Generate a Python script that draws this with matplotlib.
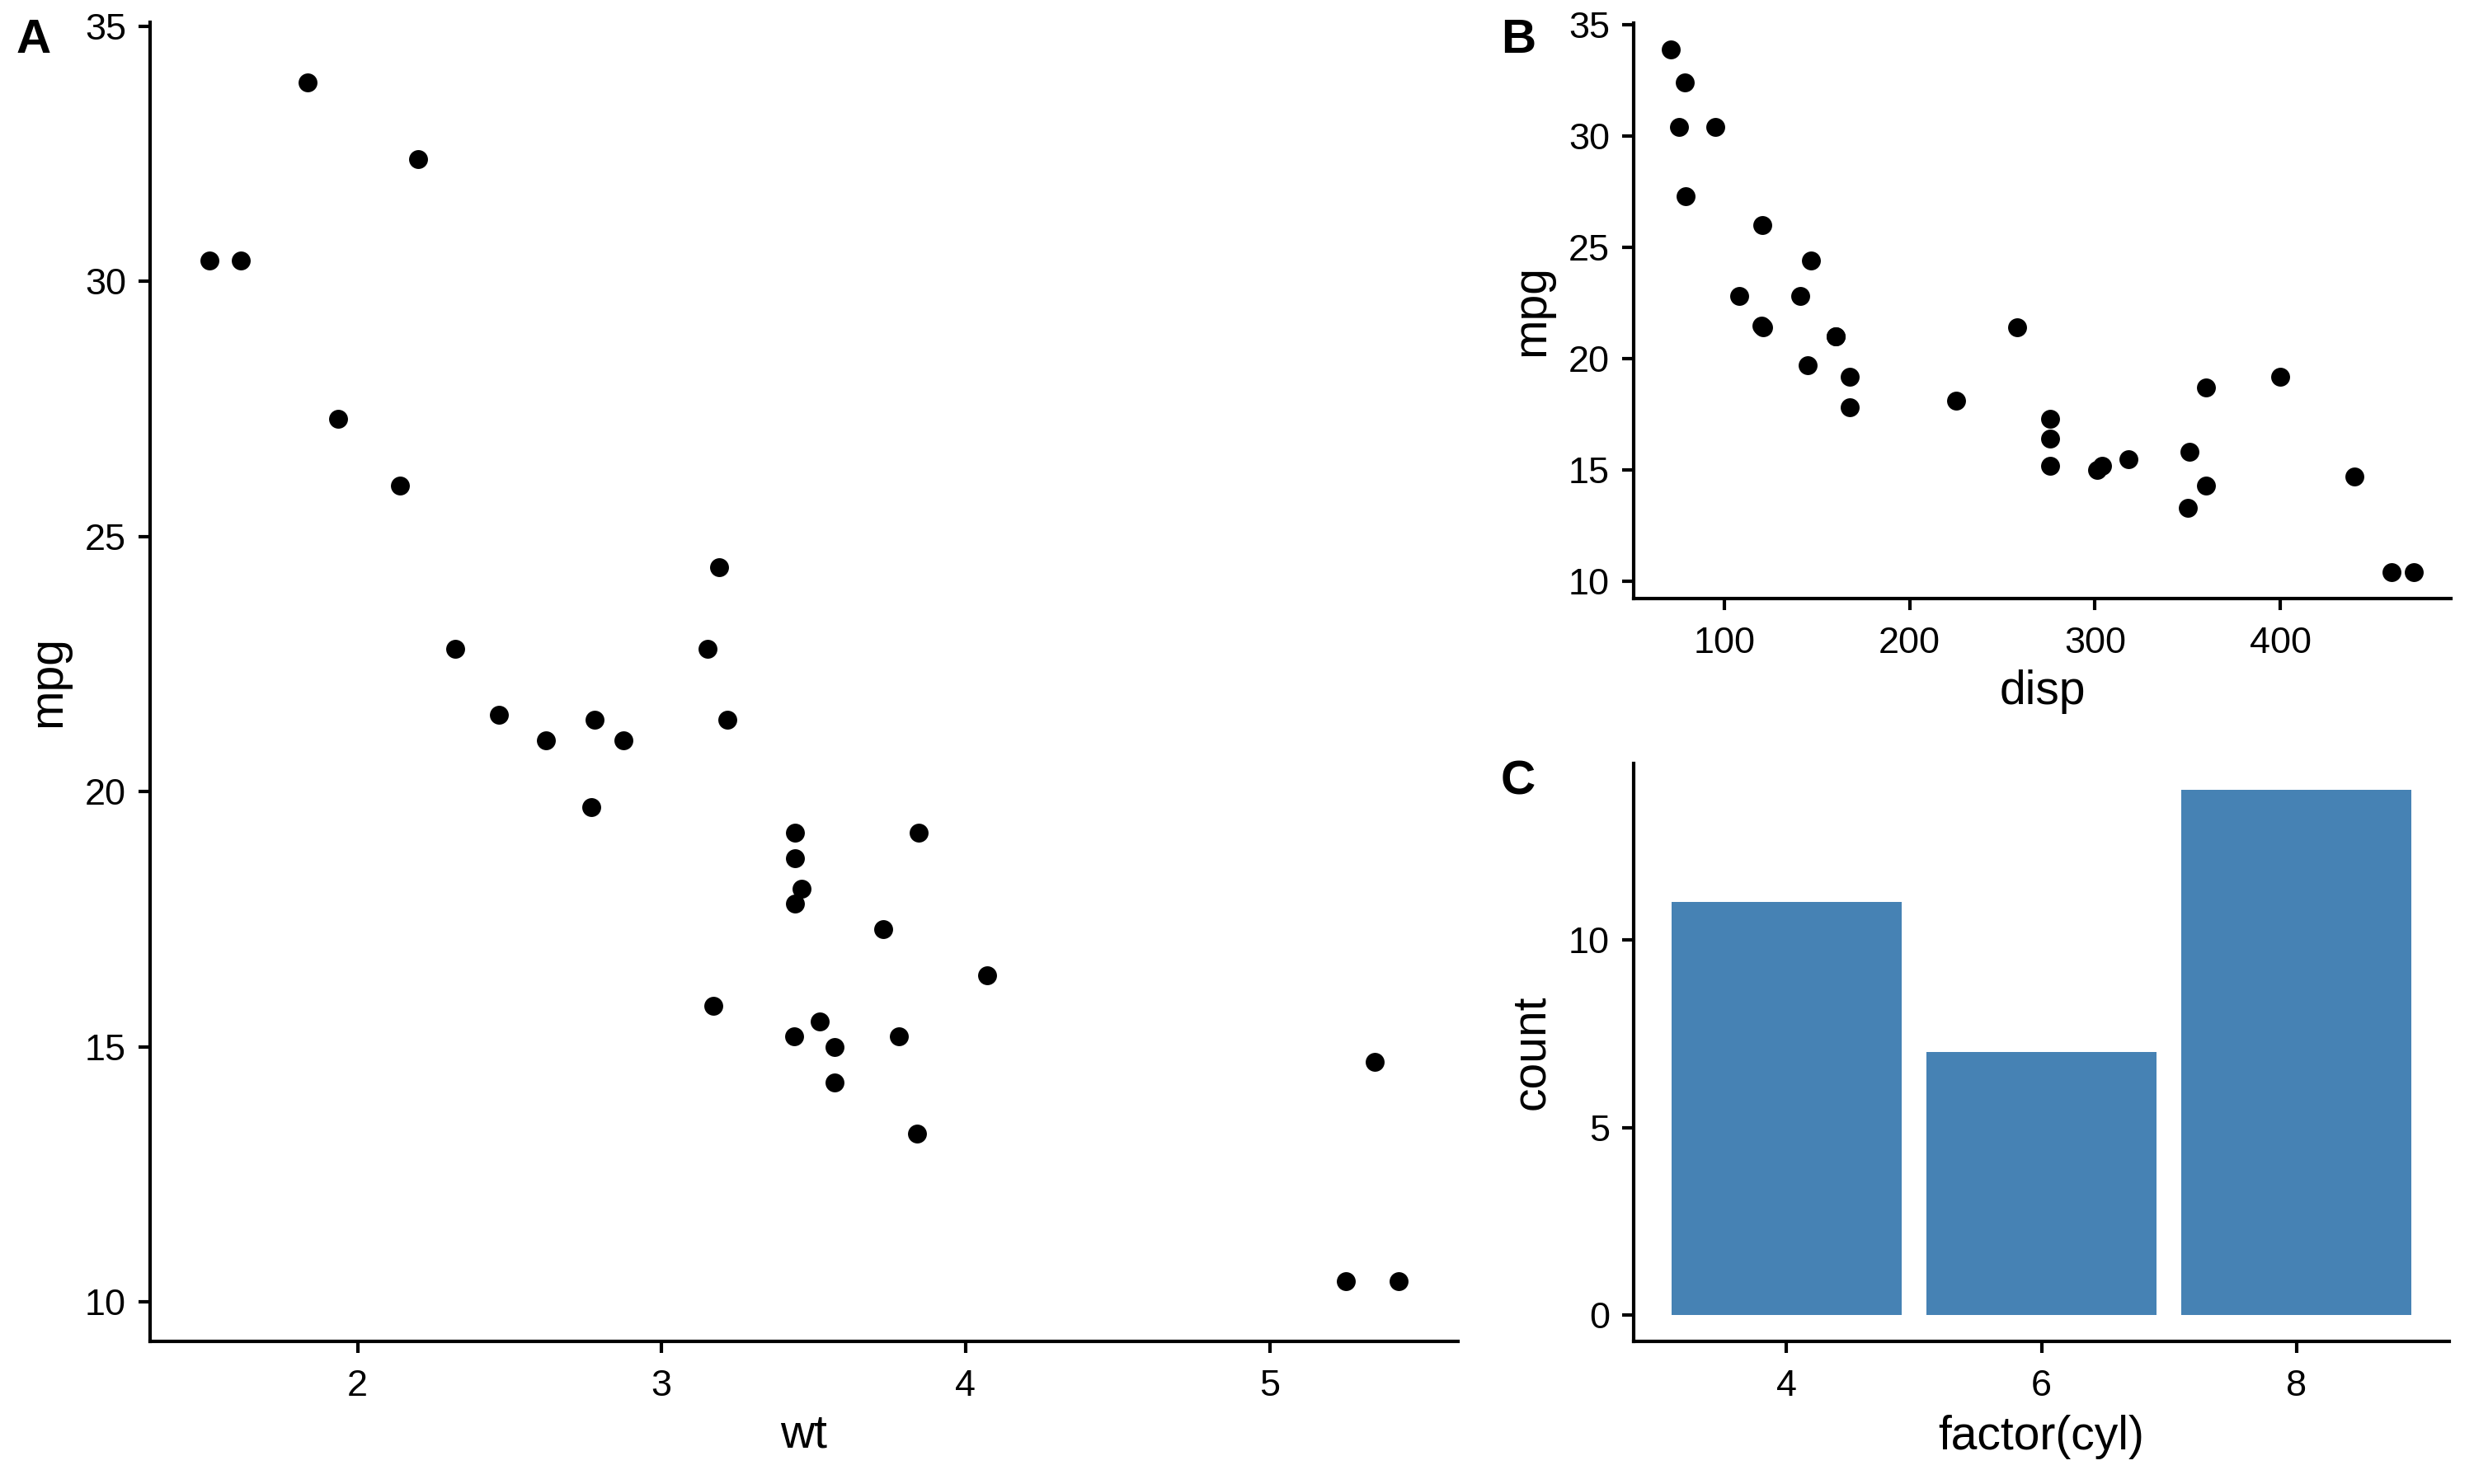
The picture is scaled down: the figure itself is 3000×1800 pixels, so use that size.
import numpy as np
import matplotlib
matplotlib.use("Agg")
import matplotlib.pyplot as plt

plt.rcParams['font.family'] = ['Liberation Sans', 'DejaVu Sans']

# mtcars columns
mpg = [21.0, 21.0, 22.8, 21.4, 18.7, 18.1, 14.3, 24.4, 22.8, 19.2, 17.8, 16.4,
       17.3, 15.2, 10.4, 10.4, 14.7, 32.4, 30.4, 33.9, 21.5, 15.5, 15.2, 13.3,
       19.2, 27.3, 26.0, 30.4, 15.8, 19.7, 15.0, 21.4]
wt = [2.620, 2.875, 2.320, 3.215, 3.440, 3.460, 3.570, 3.190, 3.150, 3.440,
      3.440, 4.070, 3.730, 3.780, 5.250, 5.424, 5.345, 2.200, 1.615, 1.835,
      2.465, 3.520, 3.435, 3.840, 3.845, 1.935, 2.140, 1.513, 3.170, 2.770,
      3.570, 2.780]
disp = [160, 160, 108, 258, 360, 225, 360, 146.7, 140.8, 167.6, 167.6, 275.8,
        275.8, 275.8, 472, 460, 440, 78.7, 75.7, 71.1, 120.1, 318, 304, 350,
        400, 79, 120.3, 95.1, 351, 145, 301, 121]
cyl_levels = ['4', '6', '8']
cyl_counts = [11, 7, 14]

TICK_FS = 16.2
TITLE_FS = 20.5
LABEL_FS = 21
LW = 1.5


def expand(vals, mult=0.05):
    lo, hi = min(vals), max(vals)
    pad = (hi - lo) * mult
    return lo - pad, hi + pad


def style(ax):
    for s in ['top', 'right']:
        ax.spines[s].set_visible(False)
    for s in ['left', 'bottom']:
        ax.spines[s].set_linewidth(LW)
        ax.spines[s].set_color('black')
    ax.tick_params(axis='both', length=5, width=LW,
                   labelsize=TICK_FS, colors='black')
    ax.tick_params(axis='x', pad=7.3)
    ax.tick_params(axis='y', pad=5.5)


fig = plt.figure(figsize=(15, 9), dpi=200)
fig.patch.set_facecolor('white')

W, H = 3000, 1800


def add_ax(l, t, r, b):
    return fig.add_axes([l / W, 1 - b / H, (r - l) / W, (b - t) / H])


# panel A
axA = add_ax(182, 27, 1768, 1627)
axA.scatter(wt, mpg, s=68, c='black', linewidths=0, zorder=3)
axA.set_xlim(*expand(wt))
axA.set_ylim(*expand(mpg))
axA.set_xticks([2, 3, 4, 5])
axA.set_yticks([10, 15, 20, 25, 30, 35])
axA.set_xlabel('wt', fontsize=TITLE_FS, labelpad=4)
axA.set_ylabel('mpg', fontsize=TITLE_FS, labelpad=6.5)
style(axA)

# panel B
axB = add_ax(1981, 28, 2972, 726)
axB.scatter(disp, mpg, s=68, c='black', linewidths=0, zorder=3)
axB.set_xlim(*expand(disp))
axB.set_ylim(*expand(mpg))
axB.set_xticks([100, 200, 300, 400])
axB.set_yticks([10, 15, 20, 25, 30, 35])
axB.set_xlabel('disp', fontsize=TITLE_FS, labelpad=4)
axB.set_ylabel('mpg', fontsize=TITLE_FS, labelpad=6.5)
style(axB)

# panel C
axC = add_ax(1981, 926, 2970, 1627)
xpos = np.arange(1, len(cyl_levels) + 1)
axC.bar(xpos, cyl_counts, width=0.9, color='#4682B4', zorder=2)
axC.set_xlim(0.4, len(cyl_levels) + 0.6)
axC.set_ylim(*expand([0] + cyl_counts))
axC.set_xticks(xpos)
axC.set_xticklabels(cyl_levels)
axC.set_yticks([0, 5, 10])
axC.set_xlabel('factor(cyl)', fontsize=TITLE_FS, labelpad=5)
axC.set_ylabel('count', fontsize=TITLE_FS, labelpad=6.5)
style(axC)

# panel tags
for tag, x, y in [('A', 20, 22), ('B', 1820, 22), ('C', 1820, 921)]:
    fig.text(x / W, 1 - y / H, tag, fontsize=LABEL_FS, fontweight='bold',
             ha='left', va='top')

fig.savefig('out.png', dpi=200, facecolor='white')
